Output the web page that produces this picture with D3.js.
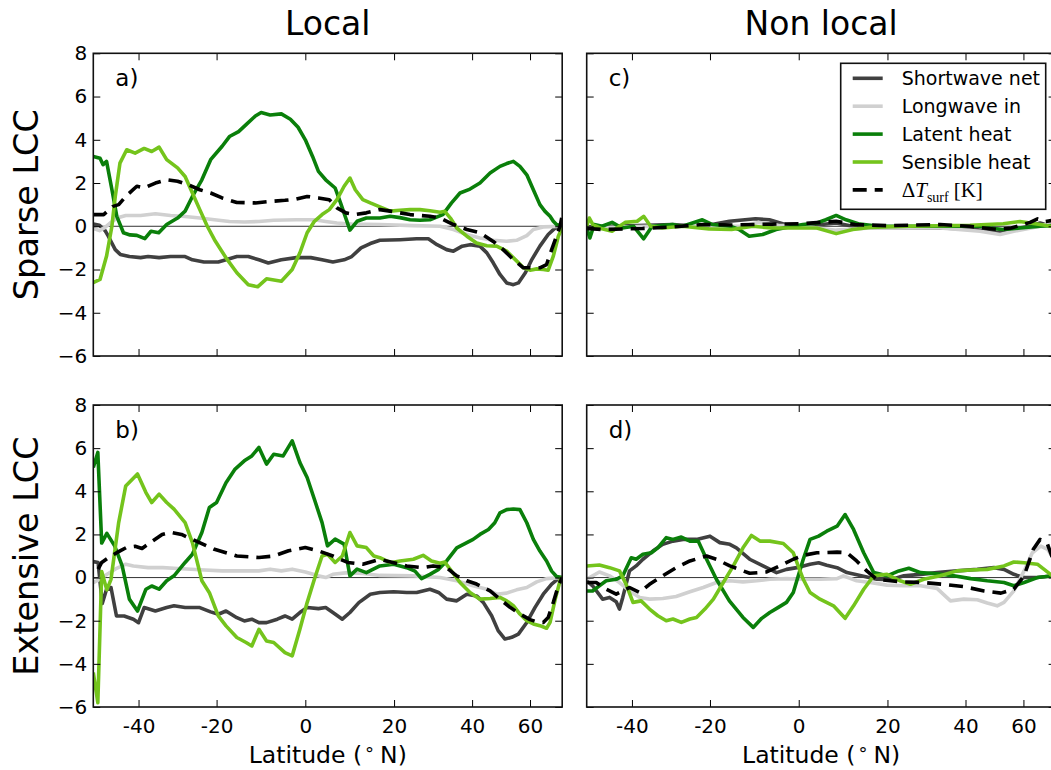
<!DOCTYPE html>
<html>
<head>
<meta charset="utf-8">
<script src="https://cdn.jsdelivr.net/npm/d3@7"></script>
<style>
  body { margin: 0; background: #fff; }
  svg { display: block; font-family: "DejaVu Sans", sans-serif; }
</style>
</head>
<body>
<svg id="chart" width="1051" height="770"></svg>
<script>
// ---- data: [latitude, value] pairs ----

// a) Sparse LCC, local
const aSW = [[-54.8,0.1],[-52.5,0.05],[-50.5,-0.2],[-49.4,-0.46],[-47.1,-1.08],[-45.5,-1.3],[-42.7,-1.4],[-39.4,-1.45],[-37.3,-1.4],[-34.3,-1.45],[-31.3,-1.4],[-27.6,-1.4],[-25.8,-1.55],[-23,-1.65],[-19.6,-1.65],[-17.8,-1.55],[-15.3,-1.4],[-12.7,-1.4],[-10.3,-1.55],[-8.2,-1.7],[-5.3,-1.55],[-2,-1.45],[1.2,-1.45],[3.7,-1.55],[6.1,-1.65],[8.6,-1.55],[10.3,-1.4],[12.4,-1.0],[14.5,-0.8],[16.7,-0.65],[21.4,-0.62],[25.4,-0.58],[28.3,-0.58],[30.5,-0.85],[33,-1.08],[34.8,-1.15],[37.2,-0.92],[39.4,-0.85],[42.3,-0.92],[44.4,-1.23],[46.4,-1.69],[48.6,-2.23],[50.9,-2.62],[53.3,-2.7],[55.2,-2.62],[58,-2.15],[60.8,-1.54],[64.7,-0.92],[69.4,-0.38],[74,-0.1],[81.9,0]];
const aLW = [[-54.8,-0.1],[-52.5,-0.2],[-50.5,-0.05],[-48.8,0.15],[-46.5,0.38],[-43.8,0.5],[-39.4,0.5],[-35.3,0.58],[-31.3,0.5],[-27.6,0.45],[-24,0.38],[-20.5,0.3],[-17,0.22],[-13.6,0.2],[-10.3,0.22],[-7,0.28],[-2,0.3],[2,0.3],[4.5,0.22],[7,0.15],[10.3,0.1],[16.7,0.08],[24.6,0.03],[31.3,0],[34.8,-0.15],[38.5,-0.38],[42.3,-0.54],[46.4,-0.65],[50.9,-0.69],[54.5,-0.65],[58.6,-0.43],[61.5,-0.15],[66.5,-0.03],[81.9,0]];
const aLatent = [[-54.8,3.23],[-52.3,3.15],[-51.2,2.85],[-50,3.0],[-48.2,1.7],[-46.6,0.46],[-44.5,-0.3],[-42.5,-0.4],[-40.5,-0.42],[-38.2,-0.57],[-36.5,-0.23],[-34.4,-0.3],[-32.3,0.08],[-29.5,0.38],[-27.6,0.7],[-25.8,1.38],[-23.5,2.15],[-21.4,3.08],[-18.7,3.7],[-17,4.15],[-14.9,4.38],[-13.2,4.7],[-11.1,5.1],[-9.8,5.26],[-7.8,5.15],[-5.3,5.2],[-3.3,4.95],[-1.6,4.58],[0,4.0],[1.6,3.23],[2.9,2.54],[4.5,2.15],[6.6,1.77],[7.8,1.08],[9.9,-0.18],[11.5,0.23],[13.6,0.38],[16.7,0.38],[19.1,0.46],[21.4,0.4],[23.8,0.3],[26.2,0.28],[28.7,0.3],[32,0.54],[34.3,1.08],[36.6,1.54],[39.4,1.72],[42.3,2.0],[45.4,2.46],[48.6,2.77],[50.9,2.9],[53.3,3.0],[55.8,2.77],[58.6,2.38],[61.5,1.69],[64.7,1.0],[67.5,0.69],[70.6,0.46],[72.9,0.23],[75.5,0.08],[81.9,0]];
const aSensible = [[-54.8,-2.6],[-52.3,-2.46],[-50,-1.38],[-48.2,0],[-47.1,1.38],[-45.6,2.92],[-43.5,3.54],[-41,3.38],[-38.4,3.6],[-36.3,3.46],[-34.3,3.66],[-32.3,3.08],[-29.5,2.7],[-27.6,2.3],[-25.8,1.54],[-24,0.77],[-22.2,0],[-20.5,-0.62],[-17.8,-1.46],[-15.3,-2.15],[-12.7,-2.7],[-10.6,-2.8],[-8.6,-2.43],[-5.3,-2.54],[-2.9,-2.0],[-1.2,-1.23],[0.4,-0.3],[2,0.23],[3.7,0.54],[5.3,0.77],[7,1.23],[8.6,1.85],[9.9,2.23],[11.1,1.69],[12.8,1.23],[14.5,1.08],[16.7,0.9],[19.1,0.7],[21.4,0.74],[23.8,0.77],[26.2,0.77],[28.7,0.72],[31.3,0.65],[32.5,0.69],[34,0.38],[35.7,-0.08],[38.5,-0.46],[41.3,-0.77],[44.4,-0.9],[47.5,-0.92],[50.9,-1.15],[54.5,-1.6],[57.2,-1.92],[60,-2.03],[63.1,-1.97],[66.5,-2.0],[69.4,-2.03],[72.9,-1.38],[77.2,-0.46],[81.9,-0.05]];
const aDT = [[-54.8,0.54],[-51,0.54],[-47.8,0.92],[-46,1.0],[-43.8,1.38],[-40.5,1.85],[-38.4,1.77],[-35.3,2.0],[-32.3,2.15],[-29.5,2.08],[-26.8,1.92],[-24,1.69],[-21.4,1.54],[-18.7,1.31],[-15.3,1.1],[-11.1,1.08],[-7.8,1.15],[-4.5,1.2],[-2,1.26],[0.4,1.38],[2.9,1.31],[5.3,1.23],[7,0.85],[9,0.62],[11.1,0.54],[13.6,0.62],[16.7,0.77],[19.1,0.7],[23.8,0.54],[28.7,0.46],[31.3,0.38],[34.8,0.08],[38.5,-0.15],[42.3,-0.3],[46.4,-0.7],[49.7,-1.08],[53.3,-1.54],[57.2,-1.92],[61.5,-1.92],[64.7,-1.92],[68.4,-1.77],[71.7,-1.08],[75.5,-0.46],[79,0],[81.9,0.5]];

// b) Extensive LCC, local
const bSW = [[-54.8,0.74],[-53,0.7],[-51.5,-1.2],[-50,-0.54],[-48.5,-0.46],[-46.7,-1.78],[-44.3,-1.78],[-41.5,-1.93],[-40,-2.09],[-38.4,-1.39],[-35.3,-1.55],[-32.3,-1.39],[-30.4,-1.31],[-27.6,-1.39],[-24,-1.39],[-21.4,-1.59],[-19.6,-1.7],[-17.8,-1.55],[-15.3,-1.86],[-13.6,-2.01],[-11.9,-1.93],[-10.3,-2.09],[-8.6,-2.09],[-6.2,-1.93],[-4.5,-1.78],[-2.9,-1.93],[-1.2,-1.62],[0.4,-1.39],[2.9,-1.44],[4.5,-1.39],[6.1,-1.62],[8.2,-1.93],[9.9,-1.62],[11.9,-1.16],[14.5,-0.77],[16.7,-0.69],[19.9,-0.66],[23,-0.69],[25.4,-0.69],[28.7,-0.54],[30.9,-0.69],[33,-1.0],[35.7,-1.08],[38.5,-0.77],[41.3,-0.85],[43.3,-1.15],[45.9,-1.77],[48,-2.46],[50.3,-2.85],[52.7,-2.77],[55.2,-2.62],[58.6,-2.08],[62.3,-1.38],[66.5,-0.77],[71.7,-0.3],[77.2,-0.05],[81.9,0]];
const bLW = [[-54.8,-0.23],[-52.5,-0.08],[-50.5,0.1],[-47,0.4],[-43.8,0.62],[-41.5,0.54],[-37.3,0.46],[-33.3,0.46],[-29.5,0.42],[-24,0.36],[-18.7,0.31],[-13.6,0.31],[-10.3,0.31],[-7.8,0.39],[-5.3,0.31],[-2.9,0.39],[0,0.26],[2.9,0.08],[4.5,0],[6.1,0.15],[9.4,0.23],[12.8,0.19],[16.7,0.1],[24.6,0.08],[31.3,0],[35.7,-0.15],[40.3,-0.38],[44.4,-0.54],[47.5,-0.77],[50.9,-0.72],[54.5,-0.57],[58.6,-0.46],[63.1,-0.2],[68.4,-0.05],[81.9,0]];
const bLatent = [[-54.8,5.1],[-53.1,5.8],[-51.7,1.6],[-49.9,2.05],[-47.3,1.47],[-44.9,0.54],[-42.7,-1.0],[-40.3,-1.55],[-37.9,-0.54],[-36.3,-0.39],[-34.3,-0.54],[-32.3,-0.15],[-30.4,0.08],[-27.6,0.7],[-25.8,1.08],[-23.5,2.09],[-21.7,3.25],[-20,3.48],[-17.8,4.4],[-15.7,5.03],[-13.6,5.41],[-11.9,5.64],[-10.3,6.03],[-8.6,5.26],[-7,5.72],[-4.9,5.64],[-2.9,6.34],[-1.2,5.33],[0.4,4.64],[2,3.63],[3.7,2.55],[4.9,1.47],[6.6,1.78],[8.6,1.55],[9.9,0.08],[11.5,0.39],[13.6,0.23],[16.7,0.54],[19.9,0.62],[23,0.46],[25,0.3],[26.6,-0.05],[28.7,0.15],[30.9,0.38],[33,0.77],[35.7,1.38],[38.5,1.62],[40.3,1.77],[42.3,2.0],[44.9,2.23],[46.9,2.54],[48.6,3.0],[50.9,3.15],[53.3,3.18],[55.8,3.15],[58.6,2.54],[61.5,1.77],[64.7,1.23],[68.4,0.77],[71.7,0.3],[75.5,0.05],[81.9,0]];
const bSensible = [[-54.8,-4.4],[-53.1,-5.8],[-51.7,0.28],[-49.9,-0.57],[-48.5,-0.08],[-46,2.55],[-43.8,4.25],[-40.3,4.8],[-37.9,3.94],[-36.3,3.48],[-34.3,3.87],[-32.3,3.48],[-30.4,3.17],[-27.6,2.55],[-25.8,1.62],[-23.5,-0.15],[-21.7,-0.7],[-19.6,-1.78],[-17.8,-2.24],[-15.3,-2.78],[-13.2,-3.01],[-11.9,-3.17],[-10.3,-2.4],[-8.6,-2.94],[-7,-3.01],[-4.5,-3.48],[-2.9,-3.63],[-1.2,-2.4],[0.4,-1.16],[2,-0.08],[3.7,1.0],[4.9,1.08],[6.6,0.7],[8.2,1.0],[9.9,2.09],[11.5,1.47],[13.6,1.39],[15.3,1.0],[16.7,0.92],[19.1,0.69],[21.4,0.77],[24.6,0.85],[27,1.03],[29.1,0.77],[31.3,0.66],[32.5,0.72],[34.3,0.3],[36.6,-0.23],[39.4,-0.69],[42.3,-1.0],[45.4,-0.97],[48.6,-0.92],[50.9,-1.08],[53.3,-1.3],[55.8,-1.69],[58.6,-2.0],[61.5,-2.15],[64.7,-2.23],[68.4,-2.35],[70.6,-2.08],[74.4,-1.0],[79.5,-0.08],[81.9,0]];
const bDT = [[-53,0.39],[-51.7,0.7],[-48.5,1.0],[-46,1.2],[-43.5,1.4],[-41,1.45],[-39,1.35],[-36,1.7],[-33.5,2.0],[-31.3,2.1],[-28.5,2.0],[-25,1.7],[-20.5,1.31],[-15.3,1.0],[-10.3,0.93],[-7,1.0],[-3.7,1.24],[0,1.39],[2.9,1.24],[6.1,1.0],[9.4,0.7],[12.8,0.62],[16.7,0.85],[19.9,0.69],[23,0.54],[27,0.46],[29.5,0.54],[33,0.46],[35.7,0.08],[38.5,-0.15],[41.3,-0.3],[45.4,-0.62],[48.6,-1.0],[52.1,-1.38],[55.8,-1.69],[60,-1.95],[63.1,-2.05],[66.5,-2.08],[69.4,-1.85],[72.9,-1.15],[77.2,-0.38],[81.9,0]];

// c) Sparse LCC, non local
const cSW = [[-54.8,-0.03],[-46,0],[-29.1,0.08],[-21.8,0],[-15.5,0.23],[-9.6,0.35],[-6.5,0.3],[-3,0.08],[0.9,0],[5,0.08],[8.3,0.15],[12,0],[16,-0.05],[33,-0.08],[41.3,-0.12],[50,-0.28],[54.5,-0.15],[63.1,0],[68.5,0.15],[76.6,0],[81.9,0]];
const cLW = [[-54.8,-0.08],[-46,-0.05],[-29.1,0.03],[-12.5,0],[-9,0.18],[-4.5,0.05],[0.9,0],[8.3,-0.18],[15.9,-0.08],[33,-0.08],[44.3,-0.23],[50.9,-0.38],[56,-0.23],[68.5,0],[76.6,0.18],[81.9,0.2]];
const cLatent = [[-54.8,-0.08],[-53.6,-0.54],[-52,0.08],[-49.3,0],[-46,0.18],[-42.9,-0.08],[-39.5,0],[-36.7,-0.58],[-34.4,0],[-29.1,0.08],[-26.6,0],[-21.8,0.3],[-19.4,0.08],[-15.3,0],[-13.3,-0.15],[-11,-0.46],[-8,-0.38],[-5,-0.15],[-1.3,0],[0.9,0.08],[4,0.15],[6,0.3],[8.3,0.5],[10.5,0.3],[13.6,0.1],[18,0],[33,0],[44.3,0],[47.5,-0.08],[52,-0.15],[58.5,-0.08],[68.5,0],[76.6,0.03],[81.9,0]];
const cSensible = [[-54.8,0],[-53.8,0.38],[-52.5,0.08],[-49.3,-0.12],[-46,-0.23],[-42,0.18],[-38.5,0.23],[-36.7,0.46],[-34.8,0],[-31.7,-0.08],[-26.6,0],[-20.2,-0.12],[-15,-0.15],[-10.2,0],[-6,-0.08],[-0.6,-0.08],[4,-0.08],[8.3,-0.34],[12,-0.15],[15.9,-0.05],[25,0],[41.3,0.05],[52,0.12],[58.5,0.22],[68.5,0.08],[76.6,0],[81.9,0]];
const cDT = [[-54.8,-0.1],[-49.3,-0.15],[-37,-0.1],[-29.1,-0.03],[-21.8,0.08],[-14.8,0.06],[-5.8,0.1],[0.9,0.12],[8.3,0.23],[12.5,0.08],[20,0.03],[33,0.08],[41.3,0],[50,-0.15],[55,-0.08],[63.1,0.18],[67,0.34],[72,0.22],[81.9,0.3]];

// d) Extensive LCC, non local
const dSW = [[-54.8,-0.15],[-52.6,-0.38],[-49.1,-1.0],[-46.8,-0.92],[-44.7,-1.12],[-43.7,-1.46],[-42.7,-0.92],[-40.7,0.31],[-38.8,0.54],[-36.9,0.85],[-34.2,1.23],[-31.6,1.54],[-29,1.69],[-26.5,1.77],[-23.2,1.77],[-20,1.92],[-17.7,1.62],[-15.4,1.54],[-13.9,1.38],[-10.9,0.85],[-7.9,0.54],[-4.9,0.23],[-2.7,0.38],[-0.4,0.46],[2.5,0.62],[4.4,0.69],[6.2,0.57],[8.5,0.46],[10.7,0.23],[13.7,0.1],[17.5,-0.08],[20.7,-0.1],[23.9,0.08],[28,0.15],[32.2,0.23],[37.6,0.31],[43.5,0.38],[48.8,0.46],[52.3,0.38],[56,0.15],[60.3,0],[66.9,0],[77.3,0.08],[81.9,0.1]];
const dLW = [[-54.8,-0.08],[-50.2,0.26],[-46.8,0.08],[-43.7,-0.23],[-40.7,-0.62],[-37.8,-0.92],[-35.1,-1.0],[-31.6,-0.97],[-28.2,-0.88],[-24.8,-0.66],[-21.6,-0.46],[-18.5,-0.23],[-15.4,-0.15],[-12.4,-0.2],[-9.3,-0.15],[-6.4,-0.08],[-2.7,-0.05],[1,-0.08],[4.7,-0.08],[8.5,-0.05],[9.9,0.08],[12.9,-0.15],[16,-0.23],[19.9,-0.35],[23.9,-0.38],[28,-0.38],[32.2,-0.5],[35.8,-1.08],[39.5,-1.0],[43.5,-1.03],[46.6,-1.18],[49.9,-1.31],[52.3,-1.15],[56,-0.62],[60.3,0.31],[64.2,1.15],[68.9,1.46],[73.5,1.31],[77.3,1.0],[81.9,0.8]];
const dLatent = [[-54.8,-0.62],[-52.6,-0.62],[-50.2,-0.38],[-47.9,-0.15],[-44.7,-0.08],[-42.7,0.08],[-40.2,0.92],[-38.8,0.85],[-36.9,1.08],[-34.6,1.15],[-32.9,1.38],[-30.7,1.85],[-29,1.77],[-26.9,1.88],[-24.8,1.69],[-22.8,1.69],[-20.8,0.85],[-18.5,-0.08],[-15.5,-1.08],[-12.4,-1.85],[-10.1,-2.31],[-8.2,-1.89],[-6.4,-1.62],[-4.5,-1.38],[-2.7,-1.15],[-1.2,-0.69],[1,0.85],[2.5,1.77],[4.4,1.92],[6.2,2.15],[8.5,2.38],[10.3,2.92],[12.2,2.23],[14.5,1.15],[16.8,0.23],[19.9,0.08],[22.7,0.31],[25.1,0.43],[28,0.23],[32.2,0.18],[36.7,0.08],[41.5,-0.05],[46.6,-0.15],[52.3,-0.23],[56,-0.38],[60.3,-0.23],[66.9,0],[77.3,0.08],[81.9,0]];
const dSensible = [[-54.8,0.54],[-50.2,0.58],[-46.8,0.46],[-43.7,0.31],[-41.7,-0.31],[-39.7,-1.15],[-37.4,-1.08],[-35.1,-1.46],[-32.9,-1.77],[-30.7,-2.0],[-29,-1.92],[-26.9,-2.08],[-24.8,-1.92],[-23.2,-1.85],[-21.2,-1.46],[-19.2,-1.0],[-16.9,-0.23],[-14.6,0.54],[-12.4,1.38],[-10.5,1.95],[-8.6,1.69],[-6.4,1.69],[-3.4,1.58],[-1.2,1.15],[1,-0.08],[2.5,-0.69],[4.7,-1.0],[7.7,-1.31],[10.3,-1.89],[12.2,-1.31],[14.5,-0.54],[16.8,0.08],[19.9,0.15],[23,-0.15],[25.5,-0.31],[28.8,-0.08],[33,0.08],[37.6,0.31],[41.5,0.35],[46.6,0.38],[52.3,0.54],[56,0.72],[60.3,0.69],[66.9,0.62],[77.3,0.1],[81.9,0]];
const dDT = [[-54.8,-0.23],[-51.3,-0.23],[-47.9,-0.54],[-44.7,-0.77],[-40.7,-0.46],[-37.8,-0.69],[-35.1,-0.31],[-31.6,0.08],[-28.2,0.46],[-24.8,0.77],[-20.8,1.0],[-18.5,0.85],[-15.4,0.54],[-10.9,0.2],[-7.1,0.26],[-3.4,0.62],[-1.2,0.85],[1,1.03],[4,1.15],[8.5,1.18],[10.7,1.15],[12.9,0.77],[15.2,0.31],[17.5,-0.08],[20.7,-0.15],[23.9,-0.2],[28.8,-0.23],[33.8,-0.31],[39.5,-0.42],[45.6,-0.62],[51.2,-0.72],[56,-0.54],[60.3,0.08],[64.7,1.31],[68.5,1.77],[73.5,1.54],[77.3,1.0],[81.9,0.8]];

// axes
const latDomain = [-54.8, 81.9];
const yDomain = [-6, 8];
const xTicks = [-40, -20, 0, 20, 40, 60];
const xTickLabels = ["-40", "-20", "0", "20", "40", "60"];
const yTicks = [-6, -4, -2, 0, 2, 4, 6, 8];
const colTitles = ["Local", "Non local"];
const rowTitles = ["Sparse LCC", "Extensive LCC"];

// ---- layout / style ----
const svg = d3.select("#chart");
const cols = [[93.3, 562.2], [586.7, 1055.6]];
const rows = [[53.3, 356], [405, 707]];

const series = [
  { key: "sw", label: "Shortwave net", color: "#404040" },
  { key: "lw", label: "Longwave in", color: "#d0d0d0" },
  { key: "lh", label: "Latent heat", color: "#0a7f0a" },
  { key: "sh", label: "Sensible heat", color: "#74c41c" },
  { key: "dt", label: "dT", color: "#000", dash: "14,8" }
];

const panels = [
  { col: 0, row: 0, tag: "a)", data: { sw: aSW, lw: aLW, lh: aLatent, sh: aSensible, dt: aDT } },
  { col: 0, row: 1, tag: "b)", data: { sw: bSW, lw: bLW, lh: bLatent, sh: bSensible, dt: bDT } },
  { col: 1, row: 0, tag: "c)", data: { sw: cSW, lw: cLW, lh: cLatent, sh: cSensible, dt: cDT } },
  { col: 1, row: 1, tag: "d)", data: { sw: dSW, lw: dLW, lh: dLatent, sh: dSensible, dt: dDT } }
];

// latitude axis is linear in sin(latitude)
const sinLat = d => Math.sin(d * Math.PI / 180);

panels.forEach((p, i) => {
  const [x0, x1] = cols[p.col], [y0, y1] = rows[p.row];
  const x = d3.scaleLinear().domain(latDomain.map(sinLat)).range([x0, x1]);
  const y = d3.scaleLinear().domain(yDomain).range([y1, y0]);

  svg.append("clipPath").attr("id", "clip" + i)
    .append("rect").attr("x", x0).attr("y", y0).attr("width", x1 - x0).attr("height", y1 - y0);

  const g = svg.append("g");
  const plot = g.append("g").attr("clip-path", `url(#clip${i})`);

  plot.append("line")
    .attr("x1", x0).attr("x2", x1)
    .attr("y1", y(0)).attr("y2", y(0))
    .attr("stroke", "#333").attr("stroke-width", 1);

  const line = d3.line()
    .x(d => x(sinLat(d[0])))
    .y(d => y(d[1]));

  series.forEach(s => {
    plot.append("path")
      .datum(p.data[s.key])
      .attr("d", line)
      .attr("fill", "none")
      .attr("stroke", s.color)
      .attr("stroke-width", 3.6)
      .attr("stroke-linejoin", "round")
      .attr("stroke-dasharray", s.dash || null);
  });

  const styleAxis = ax => {
    ax.select(".domain").remove();
    ax.attr("font-family", "DejaVu Sans, sans-serif").attr("font-size", 20);
    ax.selectAll(".tick line").attr("stroke", "#000").attr("stroke-width", 1);
    ax.selectAll(".tick text").attr("fill", "#000");
  };

  g.append("g").attr("transform", `translate(0,${y1})`)
    .call(d3.axisBottom(x).tickValues(xTicks.map(sinLat)).tickSize(-7).tickPadding(12)
      .tickFormat((d, k) => p.row === 1 ? xTickLabels[k] : ""))
    .call(styleAxis);
  g.append("g").attr("transform", `translate(0,${y0})`)
    .call(d3.axisTop(x).tickValues(xTicks.map(sinLat)).tickSize(-7).tickFormat(""))
    .call(styleAxis);
  g.append("g").attr("transform", `translate(${x0},0)`)
    .call(d3.axisLeft(y).tickValues(yTicks).tickSize(-7).tickPadding(6)
      .tickFormat(p.col === 0 ? d3.format("d") : ""))
    .call(styleAxis);
  g.append("g").attr("transform", `translate(${x1},0)`)
    .call(d3.axisRight(y).tickValues(yTicks).tickSize(-7).tickFormat(""))
    .call(styleAxis);

  g.append("rect")
    .attr("x", x0).attr("y", y0).attr("width", x1 - x0).attr("height", y1 - y0)
    .attr("fill", "none").attr("stroke", "#111").attr("stroke-width", 1.6);

  g.append("text")
    .attr("x", x0 + 22).attr("y", y0 + 33)
    .attr("font-size", 23)
    .text(p.tag);

  if (p.row === 0) {
    g.append("text")
      .attr("x", (x0 + x1) / 2).attr("y", 35)
      .attr("text-anchor", "middle").attr("font-size", 33)
      .text(colTitles[p.col]);
  }
  if (p.row === 1) {
    const xl = g.append("text")
      .attr("x", (x0 + x1) / 2).attr("y", 763)
      .attr("text-anchor", "middle").attr("font-size", 23.5);
    xl.append("tspan").text("Latitude (");
    xl.append("tspan").attr("dx", 3).attr("font-size", 18).attr("dy", -3).text("°");
    xl.append("tspan").attr("dx", 6).attr("dy", 3).text("N)");
  }
  if (p.col === 0) {
    g.append("text")
      .attr("transform", `translate(38,${(y0 + y1) / 2}) rotate(-90)`)
      .attr("text-anchor", "middle").attr("font-size", 33.5)
      .text(rowTitles[p.row]);
  }

  // legend in panel c
  if (p.col === 1 && p.row === 0) {
    const lx = x0 + 254, ly = y0 + 10;
    const lg = g.append("g").attr("transform", `translate(${lx},${ly})`);
    lg.append("rect").attr("width", 205).attr("height", 146)
      .attr("fill", "#fff").attr("stroke", "#111").attr("stroke-width", 1.6);
    series.forEach((s, k) => {
      const cy = 15 + k * 27.9;
      lg.append("line").attr("x1", 12).attr("x2", 42).attr("y1", cy).attr("y2", cy)
        .attr("stroke", s.color).attr("stroke-width", 3.6)
        .attr("stroke-dasharray", s.dash || null);
      const t = lg.append("text").attr("x", 61).attr("y", cy + 7).attr("font-size", 19);
      if (s.key === "dt") {
        t.attr("font-family", "Liberation Serif, DejaVu Serif, serif").attr("font-size", 21);
        t.append("tspan").text("Δ");
        t.append("tspan").attr("font-style", "italic").text("T");
        t.append("tspan").attr("font-size", 14).attr("dy", 5).text("surf");
        t.append("tspan").attr("dy", -5).attr("dx", 5).text("[K]");
      } else {
        t.text(s.label);
      }
    });
  }
});
</script>
</body>
</html>
